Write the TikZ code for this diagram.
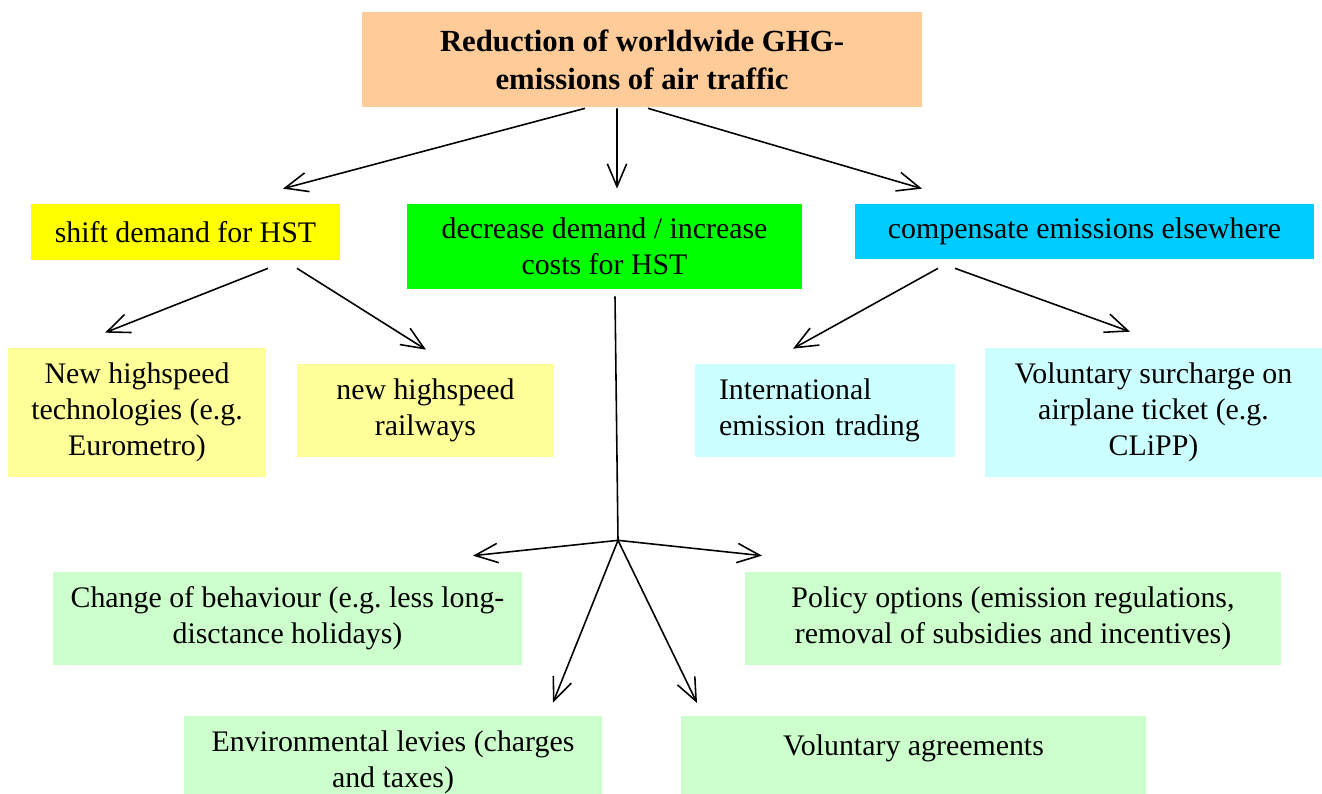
\documentclass[tikz,border=0pt]{standalone}
\usepackage{fontspec}
\setmainfont{Liberation Serif}
\usepackage{tikz}
\usetikzlibrary{arrows.meta}
\usetikzlibrary{calc}
\definecolor{peach}{HTML}{FFCC99}
\definecolor{hstyellow}{HTML}{FFFF00}
\definecolor{hstgreen}{HTML}{00FF00}
\definecolor{hstcyan}{HTML}{00CCFF}
\definecolor{paleyellow}{HTML}{FFFF99}
\definecolor{palecyan}{HTML}{CCFFFF}
\definecolor{palegreen}{HTML}{CCFFCC}
\frenchspacing
\tikzset{
  box/.style={inner sep=0pt, align=center, font=\fontsize{17}{20.5}\selectfont},
  arr/.style={-{Straight Barb[length=13pt,width=11pt]}, line width=0.9pt},
}

\begin{document}
\begin{tikzpicture}[x=0.02cm, y=-0.02cm]
\useasboundingbox (0,0) rectangle (1322,794);
\clip (0,0) rectangle (1322,794);
% goal
\node[box, fill=peach, minimum width=11.2cm, minimum height=1.9cm, font=\fontsize{17.5}{21.5}\selectfont\bfseries] (top) at (642,59.5) {Reduction of worldwide GHG-\\emissions of air traffic};
% three strategies
\node[box, fill=hstyellow, minimum width=6.18cm, minimum height=1.12cm] (shift) at (185.5,232) {shift demand for HST};
\node[box, fill=hstgreen, minimum width=7.9cm, minimum height=1.7cm] (dec) at (604.5,246.5) {decrease demand / increase\\costs for HST};
\node[box, fill=hstcyan, minimum width=9.18cm, minimum height=1.1cm] (comp) at (1084.5,231.5) {compensate emissions elsewhere};
% measures
\node[box, fill=paleyellow, minimum width=5.16cm, minimum height=2.58cm] (tech) at (137,412.5) {New highspeed\\technologies (e.g.\\Eurometro)};
\node[box, fill=paleyellow, minimum width=5.14cm, minimum height=1.86cm] (rail) at (425.5,410.5) {new highspeed\\railways};
\node[box, fill=palecyan, align=left, text width=4.24cm, inner xsep=0.48cm, minimum height=1.86cm] (trade) at (825,410.5) {International\\emission trading};
\node[box, fill=palecyan, minimum width=6.74cm, minimum height=2.58cm] (surch) at (1153.5,412.5) {Voluntary surcharge on\\airplane ticket (e.g.\\CLiPP)};
\node[box, fill=palegreen, minimum width=9.38cm, minimum height=1.86cm] (behav) at (287.5,618.5) {Change of behaviour (e.g. less long-\\disctance holidays)};
\node[box, fill=palegreen, minimum width=10.72cm, minimum height=1.86cm] (policy) at (1013,618.5) {Policy options (emission regulations,\\removal of subsidies and incentives)};
\node[box, fill=palegreen, minimum width=8.36cm, minimum height=1.86cm] (levies) at (393,762.5) {Environmental levies (charges\\and taxes)};
\node[box, fill=palegreen, minimum width=9.3cm, text height=0.78cm, text depth=1.08cm, anchor=north] (agree) at (913.5,716) {Voluntary agreements};

% arrows from the goal
\draw[arr] ($(top.south)+(-57,1)$) -- ($(shift.north)+(97.5,-15)$);
\draw[arr] ($(top.south)+(-25,1)$) -- ($(dec.north)+(12.5,-15)$);
\draw[arr] ($(top.south)+(6,1)$) -- ($(comp.north)+(-162.5,-15)$);
% arrows to the measures
\draw[arr] ($(shift.south)+(82.5,8)$) -- ($(tech.north)+(-32,-15)$);
\draw[arr] ($(shift.south)+(111.5,8)$) -- ($(rail.north)+(0.5,-14)$);
\draw[arr] ($(comp.south)+(-146.5,9)$) -- ($(trade.north)+(-32,-15)$);
\draw[arr] ($(comp.south)+(-129.5,9)$) -- ($(surch.north)+(-23.5,-16)$);
\coordinate (hub) at ($(dec.south)+(13.5,251)$);
\draw[line width=0.9pt] ($(dec.south)+(10.5,7)$) -- (hub);
\draw[arr] (hub) -- ($(behav.north)+(185.5,-16)$);
\draw[arr] (hub) -- ($(policy.north)+(-251,-16)$);
\draw[arr] (hub) -- ($(levies.north)+(160,-13)$);
\draw[arr] (hub) -- ($(agree.north)+(-216.5,-13)$);
\end{tikzpicture}
\end{document}
